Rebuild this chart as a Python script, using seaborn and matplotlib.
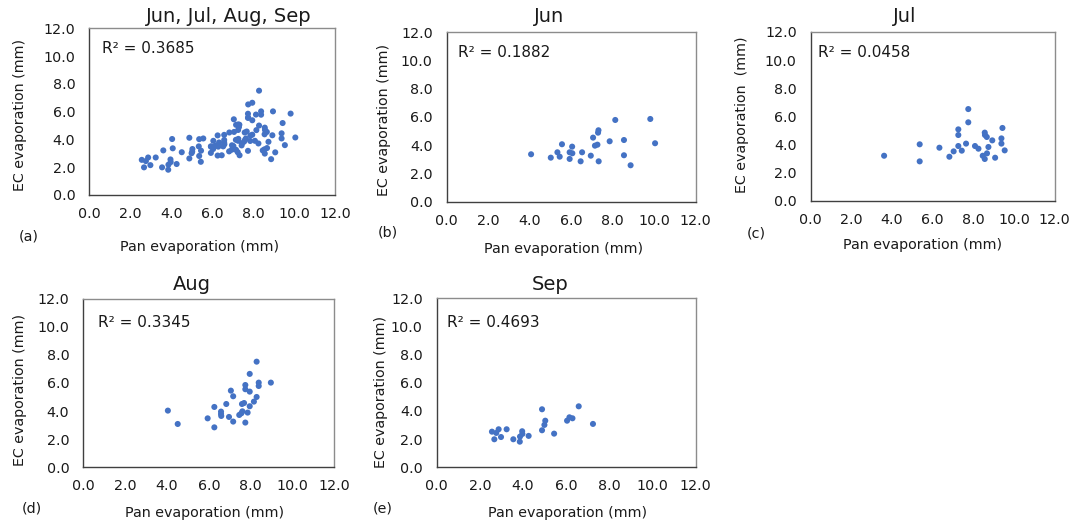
import numpy as np
import pandas as pd
import matplotlib
matplotlib.use("Agg")
import matplotlib.pyplot as plt
import seaborn as sns

# ---------------- data ----------------
jun_pan = [4.07, 5.02, 5.34, 5.45, 5.56, 5.93, 5.93, 6.05, 6.06, 6.46, 6.53, 6.95, 7.06,
           7.15, 7.27, 7.30, 7.32, 7.33, 7.86, 8.13, 8.55, 8.55, 8.87, 9.82, 10.05]
jun_ec = [3.36, 3.12, 3.50, 3.19, 4.07, 3.03, 3.50, 3.90, 3.43, 2.86, 3.50, 3.26, 4.54,
          3.97, 4.04, 4.89, 5.06, 2.86, 4.28, 5.79, 4.37, 3.29, 2.58, 5.86, 4.14]

jul_pan = [3.61, 5.36, 5.36, 6.33, 6.82, 7.03, 7.26, 7.26, 7.26, 7.43, 7.64, 7.75, 7.75, 8.08,
           8.25, 8.46, 8.56, 8.57, 8.56, 8.66, 8.67, 8.74, 8.93, 9.07, 9.38, 9.38, 9.43, 9.54]
jul_ec = [3.21, 4.02, 2.81, 3.78, 3.14, 3.52, 5.08, 4.68, 3.90, 3.57, 4.07, 6.52, 5.58, 3.90,
          3.71, 3.21, 4.85, 4.68, 2.98, 4.54, 3.38, 3.83, 4.30, 3.07, 4.07, 4.44, 5.18, 3.59]

aug_pan = [4.04, 4.51, 5.94, 6.26, 6.26, 6.58, 6.58, 6.59, 6.83, 6.96, 7.05, 7.16, 7.16, 7.45,
           7.55, 7.58, 7.60, 7.68, 7.74, 7.74, 7.74, 7.85, 7.95, 7.95, 7.95, 8.15, 8.28, 8.28,
           8.38, 8.38, 8.96]
aug_ec = [4.03, 3.08, 3.48, 4.29, 2.84, 3.96, 3.79, 3.65, 4.50, 3.58, 5.45, 5.05, 3.25, 3.72,
          3.84, 4.50, 3.98, 4.57, 5.85, 5.55, 3.18, 3.89, 6.64, 5.38, 4.34, 4.67, 5.00, 7.51,
          6.02, 5.78, 6.02]

sep_pan = [2.56, 2.67, 2.76, 2.87, 2.98, 3.24, 3.55, 3.85, 3.86, 3.96, 3.97, 4.26, 4.88, 4.88,
           4.99, 5.03, 5.44, 6.04, 6.15, 6.29, 6.58, 7.24]
sep_ec = [2.53, 1.99, 2.44, 2.70, 2.15, 2.70, 1.99, 1.82, 2.18, 2.56, 2.37, 2.23, 4.12, 2.63,
          3.01, 3.31, 2.39, 3.31, 3.55, 3.48, 4.33, 3.08]

titles = ["Jun, Jul, Aug, Sep", "Jun", "Jul", "Aug", "Sep"]
r2_texts = ["R² = 0.3685", "R² = 0.1882", "R² = 0.0458", "R² = 0.3345", "R² = 0.4693"]
panel_tags = ["(a)", "(b)", "(c)", "(d)", "(e)"]
x_label = "Pan evaporation (mm)"
y_labels = ["EC evaporation (mm)", "EC evaporation (mm)", "EC evaporation  (mm)",
            "EC evaporation (mm)", "EC evaporation (mm)"]
tick_values = [0, 2, 4, 6, 8, 10, 12]
tick_labels = ["0.0", "2.0", "4.0", "6.0", "8.0", "10.0", "12.0"]

months = {
    "Jun": (jun_pan, jun_ec),
    "Jul": (jul_pan, jul_ec),
    "Aug": (aug_pan, aug_ec),
    "Sep": (sep_pan, sep_ec),
}
frames = [pd.DataFrame({"pan": p, "ec": e, "month": m}) for m, (p, e) in months.items()]
df_all = pd.concat(frames, ignore_index=True)
datasets = [df_all] + frames

# ---------------- layout (pixels) ----------------
W, H = 1075, 525
sns.set_style("white")
plt.rcParams["font.family"] = ["DejaVu Sans"]

fig = plt.figure(figsize=(W / 100, H / 100), dpi=100)
fig.patch.set_facecolor("white")

boxes = [  # left, top, right, bottom
    (89.3, 28.3, 335.3, 195.0),
    (446.7, 32.3, 695.5, 201.7),
    (810.7, 31.8, 1054.7, 201.0),
    (83.3, 298.5, 334.5, 467.3),
    (436.7, 298.3, 695.7, 467.3),
]
title_pos = [(229, 16), (549, 17), (905, 17), (192, 285), (550, 285)]
r2_pos = [(0.05, 0.876), (0.047, 0.882), (0.031, 0.879), (0.06, 0.859), (0.041, 0.858)]
tag_pos = [(29, 236), (388, 232), (756, 233), (32, 508), (383, 508)]
xlab_pos = [(200, 247), (564, 249), (923, 245), (205, 513), (568, 513)]
ylab_pos = [(20, 115), (384, 120), (742, 115), (20, 390), (381, 392)]

COLOR = "#4472C4"
TXT = "#1a1a1a"

def fx(x):
    return x / W

def fy(y):
    return 1 - y / H

for i, df in enumerate(datasets):
    l, t, r, b = boxes[i]
    ax = fig.add_axes([l / W, 1 - b / H, (r - l) / W, (b - t) / H])
    sns.scatterplot(data=df, x="pan", y="ec", ax=ax, color=COLOR, s=19,
                    edgecolor="none", linewidth=0, legend=False, zorder=3)
    ax.set_xlim(0, 12)
    ax.set_ylim(0, 12)
    ax.set_xticks(tick_values)
    ax.set_xticklabels(tick_labels)
    ax.set_yticks(tick_values)
    ax.set_yticklabels(tick_labels)
    ax.set_xlabel("")
    ax.set_ylabel("")
    ax.tick_params(axis="x", direction="inout", length=7, width=1, color="#404040",
                   labelsize=10.3, pad=5, labelcolor=TXT)
    ax.tick_params(axis="y", direction="out", length=4, width=1, color="#404040",
                   labelsize=10.3, pad=6, labelcolor=TXT)
    for side, sp in ax.spines.items():
        sp.set_visible(True)
        sp.set_linewidth(1.0)
        sp.set_color("#404040" if side in ("bottom", "left") else "#8c8c8c")
    ax.grid(False)
    ax.text(r2_pos[i][0], r2_pos[i][1], r2_texts[i], transform=ax.transAxes,
            fontsize=11, color=TXT, ha="left", va="center")
    fig.text(fx(title_pos[i][0]), fy(title_pos[i][1]), titles[i], fontsize=14,
             color=TXT, ha="center", va="center")
    fig.text(fx(tag_pos[i][0]), fy(tag_pos[i][1]), panel_tags[i], fontsize=10.3,
             color=TXT, ha="center", va="center")
    fig.text(fx(xlab_pos[i][0]), fy(xlab_pos[i][1]), x_label, fontsize=10.3,
             color=TXT, ha="center", va="center")
    fig.text(fx(ylab_pos[i][0]), fy(ylab_pos[i][1]), y_labels[i], fontsize=10.3,
             color=TXT, ha="center", va="center", rotation=90)

fig.savefig("out.png", dpi=100, facecolor="white")
